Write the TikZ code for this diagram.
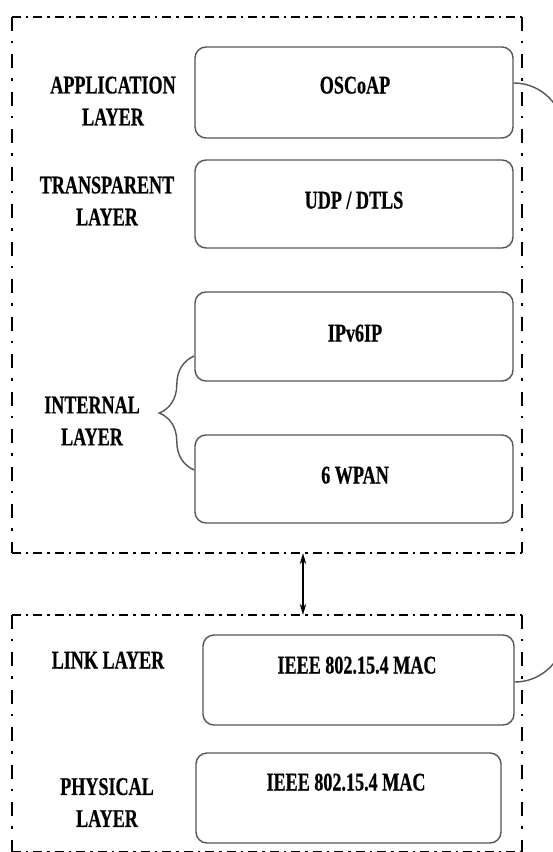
\documentclass[tikz,border=0pt]{standalone}
\usepackage{fontspec}
\setmainfont{Liberation Serif}[FakeStretch=0.71, FakeBold=0.5]
\usetikzlibrary{decorations.pathreplacing,arrows.meta,calc}
\definecolor{boxgray}{HTML}{555555}
\begin{document}
\begin{tikzpicture}[x=1pt,y=-1pt,
  layerbox/.style={draw=boxgray, line width=1.4pt, rounded corners=11pt, inner sep=0pt},
  txt/.style={font=\fontsize{25.5}{32}\selectfont\bfseries, align=center, inner sep=0pt},
  frame/.style={draw=none, inner sep=0pt},
  hdash/.style={line width=2.3pt, dash pattern=on 9pt off 5pt on 2.5pt off 5pt},
  vdash/.style={line width=2.3pt, dash pattern=on 14pt off 10pt on 2.5pt off 11pt},
  conn/.style={draw=boxgray, line width=1.4pt}]
\useasboundingbox (0,0) rectangle (553,852);
\clip (0,0) rectangle (553,852);

% outer dash-dot frames
\node[frame, minimum width=510pt, minimum height=536pt] (upper) at (267,285) {};
\node[frame, minimum width=510pt, minimum height=237pt] (lower) at (267,733.5) {};
\foreach \f in {upper,lower}{
  \draw[hdash] (\f.north west) -- (\f.north east);
  \draw[hdash] (\f.south west) -- (\f.south east);
  \draw[vdash] (\f.north west) -- (\f.south west);
  \draw[vdash] (\f.north east) -- (\f.south east);
}

% layer boxes
\node[layerbox, minimum width=318pt, minimum height=91pt] (osc) at (354,92.5) {};
\node[layerbox, minimum width=318pt, minimum height=88pt] (udp) at (354,204) {};
\node[layerbox, minimum width=318pt, minimum height=89pt] (ipv6) at (354,336.5) {};
\node[layerbox, minimum width=318pt, minimum height=88pt] (wpan) at (354,479) {};
\node[layerbox, minimum width=311pt, minimum height=90pt] (link) at (358.5,680) {};
\node[layerbox, minimum width=305pt, minimum height=90pt] (phys) at (348.5,798) {};

% box texts
\node[txt, anchor=base] (toscoap) at (355,93.5) {OSCoAP};
\node[txt, anchor=base] (tudp) at (354,208.5) {UDP / DTLS};
\node[txt, anchor=base] (tipv6) at (355,341.5) {IPv6IP};
\node[txt, anchor=base] (twpan) at (355,483.5) {6 WPAN};
\node[txt, anchor=base] (tlink) at (357,673.5) {IEEE 802.15.4 MAC};
\node[txt, anchor=base] (tphys) at (346,790.5) {IEEE 802.15.4 MAC};

% layer labels
\node[txt] (lapp) at (113,101) {APPLICATION\\LAYER};
\node[txt] (ltrans) at (107,201) {TRANSPARENT\\LAYER};
\node[txt] (lint) at (92,421) {INTERNAL\\LAYER};
\node[txt, anchor=base] (llink) at (108,668.5) {LINK LAYER};
\node[txt] (lphys) at (107,802.5) {PHYSICAL\\LAYER};

% brace for internal layer
\coordinate (bt) at (ipv6.west |- 0,356);
\coordinate (bb) at (wpan.west |- 0,470);
\draw[conn, decorate, decoration={brace, amplitude=35pt, aspect=0.5}] (bb) -- (bt);

% double arrow between frames
\coordinate (ar) at (303,0);
\draw[line width=1.3pt, {Stealth[length=11pt,width=6.5pt]}-{Stealth[length=11pt,width=6.5pt]}]
  (upper.south -| ar) -- (lower.north -| ar);

% right-side arcs (cut by picture edge)
\coordinate (c1) at (osc.east |- 0,83);
\coordinate (c2) at (link.east |- 0,682);
\draw[conn] (c1) .. controls ($(c1)+(27.6,0)$) and ($(c1)+(50,22.4)$) .. ($(c1)+(50,50)$);
\draw[conn] (c2) .. controls ($(c2)+(27.6,0)$) and ($(c2)+(50,-22.4)$) .. ($(c2)+(50,-50)$);
\end{tikzpicture}
\end{document}
